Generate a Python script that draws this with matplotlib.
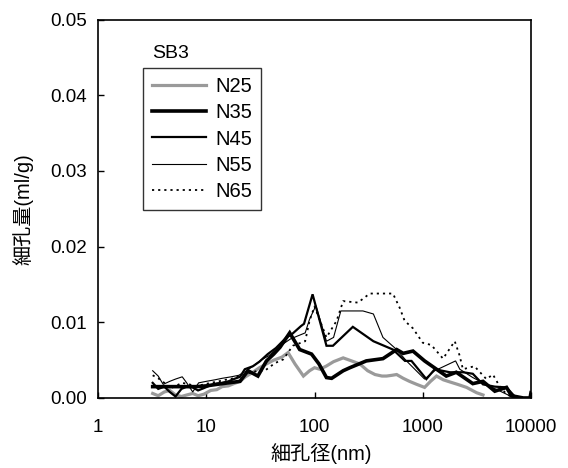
import matplotlib
matplotlib.use("Agg")
import matplotlib.pyplot as plt

plt.rcParams['font.family'] = ['Liberation Sans', 'Noto Sans CJK JP']

# ---- data ----
n25_x = [3.2, 3.6, 4.1, 4.6, 5.2, 5.9, 6.6, 7.5, 8.4, 9.5, 11, 12.5, 14, 16, 18, 20.5, 23, 27, 31, 36,
         42, 50, 57, 66, 79, 90, 100, 112, 128, 150, 184, 220, 262, 310, 362, 420, 463, 520, 574, 660,
         754, 880, 1040, 1180, 1340, 1550, 1800, 2100, 2540, 3140, 3600]
n25_y = [0.0006, 0.0003, 0.0008, 0.0010, 0.0004, 0.0002, 0.0004, 0.0006, 0.0003, 0.0005, 0.0010, 0.0011,
         0.0015, 0.0016, 0.0019, 0.0022, 0.0028, 0.0034, 0.0040, 0.0045, 0.0050, 0.0054, 0.0060, 0.0045,
         0.0029, 0.0036, 0.0040, 0.0038, 0.0042, 0.0048, 0.0053, 0.0049, 0.0045, 0.0036, 0.0031, 0.0029,
         0.0029, 0.0030, 0.0031, 0.0026, 0.0022, 0.0018, 0.0014, 0.0022, 0.0029, 0.0024, 0.0021, 0.0018,
         0.0014, 0.0007, 0.0004]

n35_x = [3.2, 4, 5, 6.3, 8, 10, 12.5, 16, 20.5, 24.3, 30, 36, 42, 48, 59, 73, 94, 110, 129, 144, 184,
         212, 301, 429, 574, 660, 812, 1040, 1340, 1650, 2040, 2900, 3600, 4630, 5940, 6600, 8500, 9800, 10000]
n35_y = [0.0015, 0.0015, 0.0015, 0.0015, 0.0015, 0.0016, 0.0018, 0.0020, 0.0022, 0.0036, 0.0029, 0.0049,
         0.0058, 0.0067, 0.0086, 0.0064, 0.0058, 0.0045, 0.0027, 0.0026, 0.0036, 0.0040, 0.0049, 0.0052,
         0.0064, 0.0059, 0.0062, 0.0049, 0.0038, 0.0029, 0.0034, 0.0019, 0.0022, 0.0009, 0.0014, 0.0003,
         0.0, 0.0, 0.0007]

n45_x = [3.2, 3.6, 4.1, 4.6, 5.2, 5.9, 6.6, 7.5, 8.4, 9.5, 11, 12.5, 14, 16, 18, 20.5, 22.7, 27, 31, 37,
         44, 55, 61.5, 75, 80, 96, 129, 148, 226, 350, 531, 685, 787, 1080, 1290, 1780, 2360, 2900, 3600,
         4630, 5940, 7080, 8500, 10000]
n45_y = [0.0020, 0.0012, 0.0015, 0.0008, 0.0002, 0.0012, 0.0015, 0.0014, 0.0010, 0.0013, 0.0017, 0.0019,
         0.0020, 0.0022, 0.0025, 0.0028, 0.0038, 0.0042, 0.0048, 0.0058, 0.0066, 0.0080, 0.0084, 0.0095,
         0.0098, 0.0137, 0.0069, 0.0069, 0.0094, 0.0075, 0.0064, 0.0049, 0.0049, 0.0025, 0.0038, 0.0034,
         0.0034, 0.0032, 0.0018, 0.0015, 0.0014, 0.0002, 0.0, 0.0]

n55_x = [3.2, 3.6, 4.0, 4.6, 5.2, 6.0, 6.6, 7.5, 8.5, 10, 12, 14, 17, 20, 23, 27, 32, 38, 45, 52, 60, 70,
         82, 90, 103, 129, 150, 175, 280, 350, 429, 574, 707, 1040, 1290, 2010, 2200, 2900, 3600, 5940,
         7000, 10000]
n55_y = [0.0036, 0.0029, 0.0018, 0.0022, 0.0025, 0.0028, 0.0020, 0.0008, 0.0020, 0.0022, 0.0024, 0.0026,
         0.0028, 0.0030, 0.0035, 0.0042, 0.0050, 0.0056, 0.0065, 0.0072, 0.0078, 0.0082, 0.0086, 0.0104,
         0.0122, 0.0075, 0.0080, 0.0115, 0.0115, 0.0111, 0.0080, 0.0064, 0.0049, 0.0025, 0.0036, 0.0049,
         0.0038, 0.0027, 0.0020, 0.0005, 0.0, 0.0]

n65_x = [3.2, 3.6, 4.1, 4.6, 5.2, 6, 7, 8, 9.5, 11, 13, 15, 18, 21, 25, 30, 34.7, 43, 51.5, 63, 82, 90,
         100, 129, 160, 184, 252, 324, 530, 613, 680, 812, 1000, 1200, 1540, 1975, 2180, 2350, 3000, 3870,
         4450, 5100, 5940, 7000, 10000]
n65_y = [0.0030, 0.0026, 0.0020, 0.0012, 0.0016, 0.0020, 0.0018, 0.0015, 0.0018, 0.0020, 0.0022, 0.0024,
         0.0026, 0.0030, 0.0033, 0.0036, 0.0036, 0.0046, 0.0051, 0.0069, 0.0075, 0.0102, 0.0121, 0.0080,
         0.0102, 0.0128, 0.0126, 0.0138, 0.0138, 0.0119, 0.0102, 0.0092, 0.0073, 0.0070, 0.0052, 0.0075,
         0.0057, 0.0038, 0.0042, 0.0025, 0.0031, 0.0016, 0.0005, 0.0, 0.0]

series_labels = ["N25", "N35", "N45", "N55", "N65"]
x_ticks = [1, 10, 100, 1000, 10000]
x_tick_labels = ["1", "10", "100", "1000", "10000"]
y_ticks = [0.00, 0.01, 0.02, 0.03, 0.04, 0.05]

# ---- figure ----
fig = plt.figure(figsize=(5.68, 4.68), dpi=100)
ax = fig.add_axes([98 / 568, 1 - 398 / 468, 433 / 568, 378.5 / 468])

ax.plot(n25_x, n25_y, color="#9a9a9a", lw=2.3, label=series_labels[0], solid_joinstyle="miter")
ax.plot(n35_x, n35_y, color="black", lw=2.6, label=series_labels[1], solid_joinstyle="miter")
ax.plot(n45_x, n45_y, color="black", lw=1.6, label=series_labels[2], solid_joinstyle="miter")
ax.plot(n55_x, n55_y, color="black", lw=0.8, label=series_labels[3], solid_joinstyle="miter")
ax.plot(n65_x, n65_y, color="black", lw=1.3, linestyle=(0, (1.2, 2.2)), label=series_labels[4])

ax.set_xscale("log")
ax.set_xlim(1, 10000)
ax.set_ylim(0, 0.05)
ax.set_xticks(x_ticks)
ax.set_xticklabels(x_tick_labels)
ax.minorticks_off()
ax.set_yticks(y_ticks)
ax.set_yticklabels([f"{v:.2f}" for v in y_ticks])
ax.tick_params(direction="in", length=4, width=1, labelsize=13.5)
ax.tick_params(axis="x", pad=15)
ax.tick_params(axis="y", pad=8)
for s in ax.spines.values():
    s.set_linewidth(1.2)

ax.set_xlabel("細孔径(nm)", fontsize=14.5)
ax.xaxis.set_label_coords(0.515, -0.12)
ax.set_ylabel("細孔量(ml/g)", fontsize=14.5, labelpad=12)

leg = ax.legend(loc="upper left", bbox_to_anchor=(0.104, 0.872), borderaxespad=0,
                frameon=True, fancybox=False, edgecolor="black", fontsize=14.5,
                handlelength=2.7, handletextpad=0.45, labelspacing=0.36, borderpad=0.45)
leg.get_frame().set_linewidth(1.0)

ax.text(0.125, 0.911, "SB3", transform=ax.transAxes, fontsize=14, va="center", ha="left")

fig.savefig("out.png", dpi=100)
